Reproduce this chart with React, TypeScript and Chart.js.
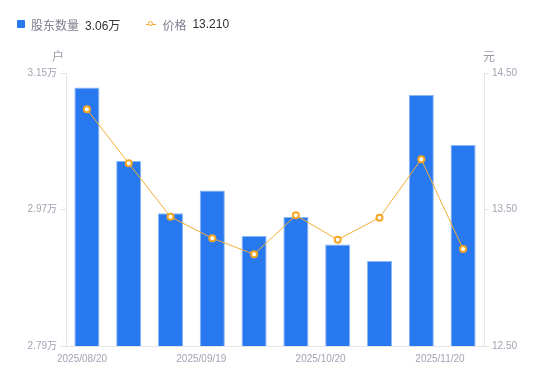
import React, { useEffect, useRef } from "react";
import { Chart, registerables } from "chart.js";

Chart.register(...registerables);

const categories = [
  "2025/08/20", "2025/08/29", "2025/09/10", "2025/09/19", "2025/09/30",
  "2025/10/10", "2025/10/20", "2025/10/31", "2025/11/10", "2025/11/20",
];
const holders = [3.131, 3.034, 2.965, 2.995, 2.935, 2.960, 2.924, 2.902, 3.121, 3.055];
const prices = [14.234, 13.838, 13.447, 13.289, 13.172, 13.457, 13.279, 13.440, 13.868, 13.210];
const xTickLabels = ["2025/08/20", "2025/09/19", "2025/10/20", "2025/11/20"];
const leftTicks = [2.79, 2.97, 3.15];
const rightTicks = [12.5, 13.5, 14.5];

const FONT = '"Liberation Sans", Arial, "Noto Sans CJK SC", sans-serif';
const TICK_COLOR = "#a2a3b3";
const AXIS_COLOR = "#e6e6e6";

const titlePlugin = {
  id: "axisTitles",
  afterDraw(chart: any) {
    const { ctx, chartArea } = chart;
    ctx.save();
    ctx.font = `12px ${FONT}`;
    ctx.fillStyle = "#9a9aa8";
    ctx.textAlign = "center";
    ctx.textBaseline = "middle";
    ctx.fillText("户", chartArea.left - 8, chartArea.top - 15);
    ctx.fillText("元", chartArea.right + 5, chartArea.top - 15);
    ctx.restore();
  },
};

export default function App() {
  const ref = useRef<HTMLCanvasElement | null>(null);
  useEffect(() => {
    document.body.style.margin = "0";
    const chart = new Chart(ref.current!, {
      type: "bar",
      data: {
        labels: categories,
        datasets: [
          {
            type: "line",
            label: "价格",
            data: prices,
            yAxisID: "y1",
            xAxisID: "x",
            borderColor: "#f5ad3a",
            borderWidth: 1,
            pointRadius: 3,
            pointBorderWidth: 2,
            pointBackgroundColor: "#ffffff",
            pointBorderColor: "#f5a623",
            tension: 0,
            order: 0,
          } as any,
          {
            type: "bar",
            label: "股东数量",
            data: holders,
            yAxisID: "y",
            xAxisID: "x",
            backgroundColor: "#2878f0",
            borderColor: "#8cb8f7",
            borderWidth: { top: 1, left: 1, right: 1, bottom: 0 },
            barPercentage: 0.6,
            categoryPercentage: 1,
            order: 1,
          } as any,
        ],
      },
      options: {
        animation: false,
        responsive: false,
        layout: { padding: { top: 73, left: 0, right: 0, bottom: 0 } },
        plugins: { legend: { display: false }, tooltip: { enabled: false } },
        scales: {
          x: {
            type: "category",
            position: "bottom",
            offset: true,
            grid: { display: false },
            border: { display: true, color: AXIS_COLOR },
            ticks: { display: false },
            afterFit(s: any) { s.height = 0; },
          },
          x2: {
            type: "linear",
            position: "bottom",
            bounds: "data",
            offset: false,
            min: -0.134,
            max: 3.369,
            grid: { display: false, tickLength: 0, offset: false },
            border: { display: false },
            afterBuildTicks(s: any) { s.ticks = xTickLabels.map((_, i) => ({ value: i })); },
            ticks: {
              color: TICK_COLOR,
              font: { size: 10, family: FONT },
              padding: 7,
              maxRotation: 0,
              autoSkip: false,
              callback: (v: any) => xTickLabels[v as number],
            },
            afterFit(s: any) { s.height = 35; },
          },
          y: {
            type: "linear",
            position: "left",
            min: 2.79,
            max: 3.15,
            afterBuildTicks(s: any) { s.ticks = leftTicks.map((v) => ({ value: v })); },
            grid: { drawOnChartArea: false, tickLength: 6, color: AXIS_COLOR },
            border: { display: true, color: AXIS_COLOR },
            ticks: {
              color: TICK_COLOR,
              font: { size: 10, family: FONT },
              padding: 3,
              callback: (v: any) => Number(v).toFixed(2) + "万",
            },
            afterFit(s: any) { s.width = 66; },
          },
          y1: {
            type: "linear",
            position: "right",
            min: 12.5,
            max: 14.5,
            afterBuildTicks(s: any) { s.ticks = rightTicks.map((v) => ({ value: v })); },
            grid: { drawOnChartArea: false, tickLength: 5, color: AXIS_COLOR },
            border: { display: true, color: AXIS_COLOR },
            ticks: {
              color: TICK_COLOR,
              font: { size: 10, family: FONT },
              padding: 3,
              callback: (v: any) => Number(v).toFixed(2),
            },
            afterFit(s: any) { s.width = 66; },
          },
        },
      } as any,
      plugins: [titlePlugin],
    });
    return () => chart.destroy();
  }, []);

  const lastHolder = holders[holders.length - 1].toFixed(2) + "万";
  const lastPrice = prices[prices.length - 1].toFixed(3);
  const labelStyle: React.CSSProperties = { color: "#7d7f8f", marginRight: 6 };
  const valueStyle: React.CSSProperties = { color: "#333333" };

  return (
    <div style={{ position: "relative", width: 550, height: 381, fontFamily: FONT }}>
      <canvas ref={ref} width={550} height={381} style={{ position: "absolute", left: 0, top: 0 }} />
      <div style={{ position: "absolute", left: 17, top: 15, height: 18, display: "flex", alignItems: "center", fontSize: 12 }}>
        <span style={{ width: 8, height: 8, background: "#2878f0", borderRadius: 1, marginRight: 6, display: "inline-block" }} />
        <span style={labelStyle}>股东数量</span>
        <span style={valueStyle}>{lastHolder}</span>
        <span style={{ position: "relative", width: 10, height: 8, marginLeft: 26, marginRight: 6, display: "inline-block" }}>
          <span style={{ position: "absolute", left: 0, top: 3.5, width: 10, height: 1, background: "#f5a623" }} />
          <span style={{ position: "absolute", left: 2, top: 1, width: 3, height: 3, border: "1.5px solid #f5a623", borderRadius: "50%", background: "#fff" }} />
        </span>
        <span style={labelStyle}>价格</span>
        <span style={valueStyle}>{lastPrice}</span>
      </div>
    </div>
  );
}
